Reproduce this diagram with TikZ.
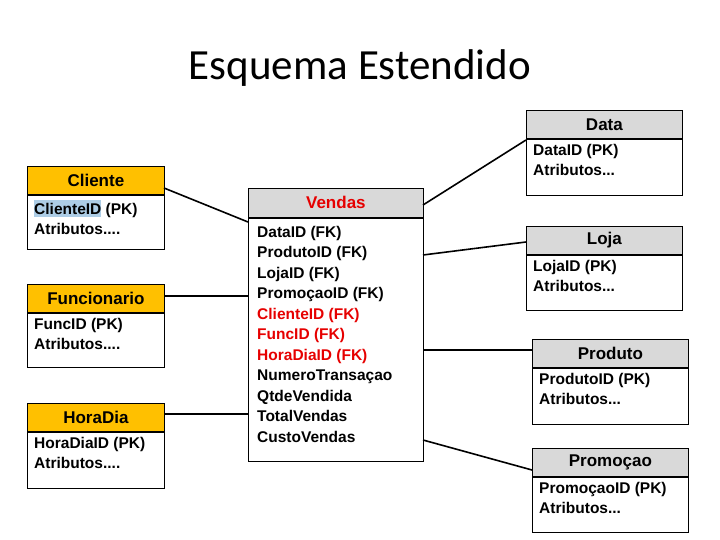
\documentclass[tikz,border=0pt]{standalone}
\usepackage{fontspec}
\setmainfont{Liberation Sans}
\newfontfamily\titlefont{Carlito}
\definecolor{orangeh}{RGB}{255,192,0}
\definecolor{grayh}{RGB}{217,217,217}
\definecolor{selblue}{RGB}{173,205,230}
\definecolor{redt}{RGB}{230,0,0}
\begin{document}
\begin{tikzpicture}[x=1pt,y=-1pt,
  hdr/.style={draw=black,line width=0.8pt,anchor=north west,inner sep=0pt,font=\bfseries\fontsize{17}{18}\selectfont},
  bodybox/.style={draw=black,line width=0.8pt,anchor=north west,inner sep=0pt},
  txt/.style={anchor=north west,align=left,inner sep=0pt,font=\bfseries\fontsize{15.5}{20.5}\selectfont},
  conn/.style={line width=1.6pt}]
\useasboundingbox (0,0) rectangle (720,540);
\node[font=\titlefont\fontsize{43}{45}\selectfont] (title) at (360,68) {Esquema Estendido};
\newcommand{\ebox}[7]{%
  \node[hdr,fill=#5,minimum width=#3,minimum height=28] (#1h) at (#2) {#4};
  \node[bodybox,minimum width=#3,minimum height=#6] (#1b) at (#1h.south west) {};
  \node[txt] (#1t) at ([shift={(7,5)}]#1b.north west) {#7};
}
\ebox{cli}{27,166}{137}{Cliente}{orangeh}{54}{\colorbox{selblue}{\hspace*{-3pt}ClienteID\hspace*{-3pt}} (PK)\\Atributos....}
\ebox{fun}{27,284}{137}{Funcionario}{orangeh}{54}{FuncID (PK)\\Atributos....}
\ebox{hor}{27,403}{137}{HoraDia}{orangeh}{56}{HoraDiaID (PK)\\Atributos....}
\node[hdr,fill=grayh,minimum width=175,minimum height=29,text=redt] (venh) at (248,188) {Vendas};
\node[bodybox,minimum width=175,minimum height=243] (venb) at (venh.south west) {};
\node[txt] (vent) at ([shift={(9,8)}]venb.north west) {DataID (FK)\\ProdutoID (FK)\\LojaID (FK)\\PromoçaoID (FK)\\\textcolor{redt}{ClienteID (FK)}\\\textcolor{redt}{FuncID (FK)}\\\textcolor{redt}{HoraDiaID (FK)}\\NumeroTransaçao\\QtdeVendida\\TotalVendas\\CustoVendas};
\ebox{dat}{526,110}{156}{Data}{grayh}{56}{DataID (PK)\\Atributos...}
\ebox{loj}{526,226}{156}{Loja}{grayh}{55}{LojaID (PK)\\Atributos...}
\ebox{pro}{532,339}{156}{Produto}{grayh}{56}{ProdutoID (PK)\\Atributos...}
\ebox{prm}{532,448}{156}{Promoçao}{grayh}{55}{PromoçaoID (PK)\\Atributos...}
\coordinate (c1) at (164,188);
\coordinate (v1) at (248,222);
\coordinate (f1) at (164,296);
\coordinate (v2) at (248,296);
\coordinate (h1) at (164,414);
\coordinate (v3) at (248,414);
\coordinate (v4) at (423,205);
\coordinate (d1) at (526,140);
\coordinate (v5) at (423,255);
\coordinate (l1) at (526,242);
\coordinate (v6) at (423,350);
\coordinate (p1) at (532,350);
\coordinate (v7) at (423,440);
\coordinate (m1) at (532,470);
\draw[conn] (c1) -- (v1);
\draw[conn] (f1) -- (v2);
\draw[conn] (h1) -- (v3);
\draw[conn] (v4) -- (d1);
\draw[conn] (v5) -- (l1);
\draw[conn] (v6) -- (p1);
\draw[conn] (v7) -- (m1);
\end{tikzpicture}
\end{document}
